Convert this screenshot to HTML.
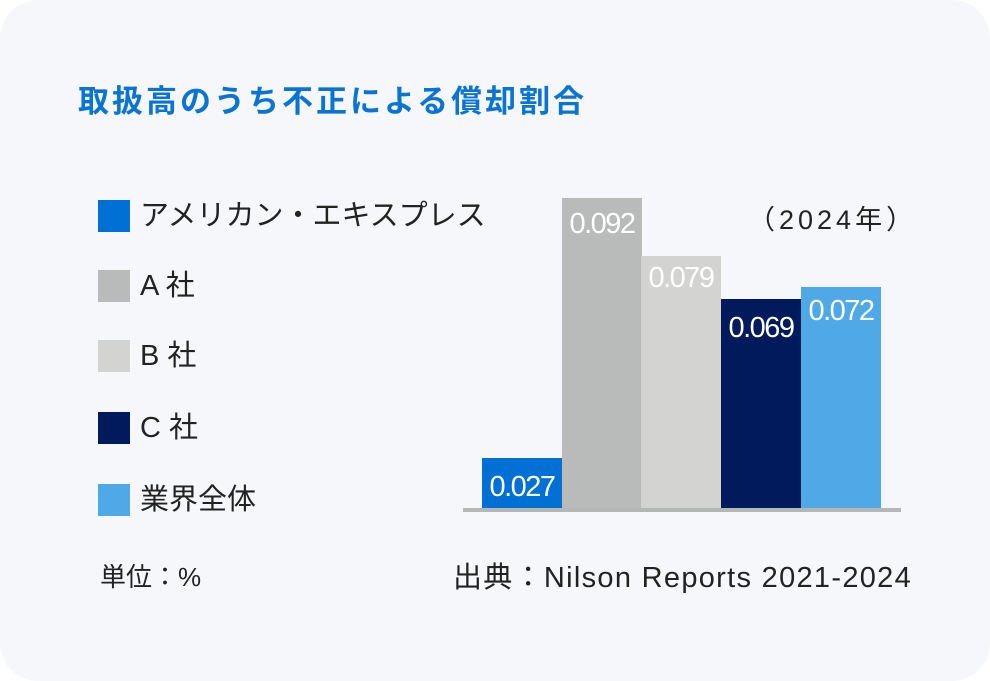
<!DOCTYPE html>
<html><head><meta charset="utf-8"><style>
html,body{margin:0;padding:0;background:#fff;}
.card{position:absolute;left:0;top:0;width:990px;height:681px;background:#f5f7fa;border-radius:38px;}
.t{position:absolute;font-family:"Liberation Sans","Noto Sans CJK JP",sans-serif;white-space:nowrap;}
.sq{position:absolute;left:98px;width:32px;height:32px;}
.lg{position:absolute;left:140px;font-family:"Liberation Sans","Noto Sans CJK JP",sans-serif;font-size:29px;color:#222;line-height:32px;white-space:nowrap;}
.bar{position:absolute;width:80px;}
.v{position:absolute;width:80px;text-align:center;color:#fff;font-family:"Liberation Sans","Noto Sans CJK JP",sans-serif;font-size:29px;letter-spacing:-1.5px;}
</style></head><body>
<div class="card"></div>
<div class="t" style="left:78px;top:76px;font-size:31px;color:#0a74d2;font-weight:bold;letter-spacing:3px;">取扱高のうち不正による償却割合</div>
<div class="sq" style="top:200px;background:#0070d4"></div><div class="lg" style="top:200px">アメリカン・エキスプレス</div>
<div class="sq" style="top:270px;background:#b9bbba"></div><div class="lg" style="top:270px">A 社</div>
<div class="sq" style="top:340px;background:#d3d3d2"></div><div class="lg" style="top:340px">B 社</div>
<div class="sq" style="top:412px;background:#001a5c"></div><div class="lg" style="top:412px">C 社</div>
<div class="sq" style="top:484px;background:#4ea9e6"></div><div class="lg" style="top:484px">業界全体</div>
<div class="t" style="left:100px;top:557px;font-size:26px;color:#222;">単位：%</div>
<div class="t" style="left:453px;top:554px;font-size:29px;color:#222;letter-spacing:1.3px;">出典：Nilson Reports 2021-2024</div>
<div class="t" style="left:748px;top:198px;font-size:27px;color:#222;letter-spacing:4px;">（2024年）</div>
<div class="bar" style="left:482px;top:458px;height:50px;background:#0070d4"></div>
<div class="bar" style="left:562px;top:198px;height:310px;background:#b9bbba"></div>
<div class="bar" style="left:641px;top:256px;height:252px;background:#d3d3d2"></div>
<div class="bar" style="left:721px;top:299px;height:209px;background:#001a5c"></div>
<div class="bar" style="left:801px;top:287px;height:221px;background:#4ea9e6"></div>
<div style="position:absolute;left:463px;top:508px;width:438px;height:4px;background:#b5b6b6"></div>
<div class="v" style="left:482px;top:471px">0.027</div>
<div class="v" style="left:562px;top:208px">0.092</div>
<div class="v" style="left:641px;top:262px">0.079</div>
<div class="v" style="left:721px;top:312px">0.069</div>
<div class="v" style="left:801px;top:295px">0.072</div>
</body></html>
